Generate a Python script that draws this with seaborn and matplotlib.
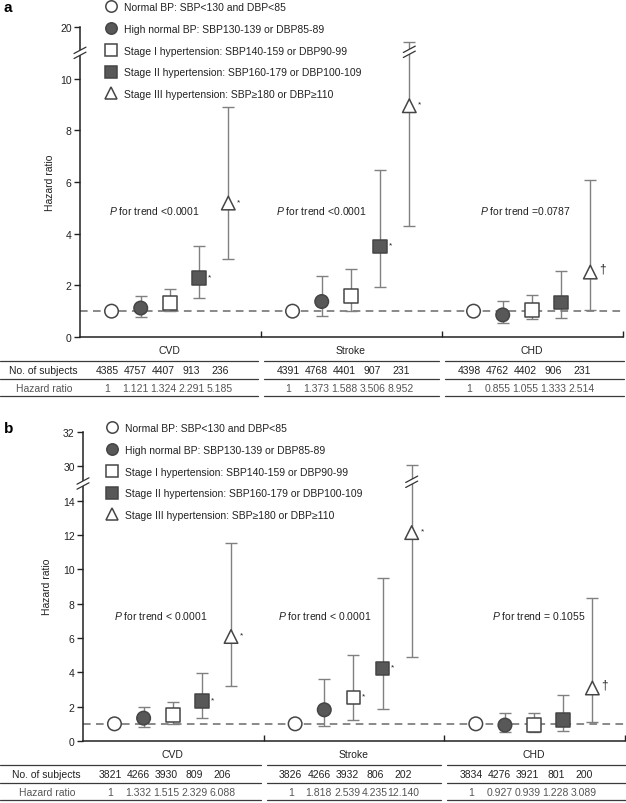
import numpy as np
import pandas as pd
import matplotlib
matplotlib.use("Agg")
import matplotlib.pyplot as plt
import matplotlib.transforms as mtransforms
from matplotlib.lines import Line2D
import seaborn as sns

# ---------------- data ----------------
categories = [
    "Normal BP: SBP<130 and DBP<85",
    "High normal BP: SBP130-139 or DBP85-89",
    "Stage I hypertension: SBP140-159 or DBP90-99",
    "Stage II hypertension: SBP160-179 or DBP100-109",
    "Stage III hypertension: SBP≥180 or DBP≥110",
]
outcomes = ["CVD", "Stroke", "CHD"]

# panel a
a_hr_cvd = [1, 1.121, 1.324, 2.291, 5.185]
a_lo_cvd = [1, 0.78, 0.99, 1.50, 3.02]
a_hi_cvd = [1, 1.60, 1.86, 3.54, 8.90]
a_hr_stroke = [1, 1.373, 1.588, 3.506, 8.952]
a_lo_stroke = [1, 0.83, 0.99, 1.93, 4.28]
a_hi_stroke = [1, 2.35, 2.65, 6.47, 17.1]
a_hr_chd = [1, 0.855, 1.055, 1.333, 2.514]
a_lo_chd = [1, 0.54, 0.70, 0.74, 1.05]
a_hi_chd = [1, 1.38, 1.64, 2.55, 6.09]
a_n_cvd = [4385, 4757, 4407, 913, 236]
a_n_stroke = [4391, 4768, 4401, 907, 231]
a_n_chd = [4398, 4762, 4402, 906, 231]
a_mark_cvd = ["", "", "", "*", "*"]
a_mark_stroke = ["", "", "", "*", "*"]
a_mark_chd = ["", "", "", "", "†"]
a_ptrend = ["<0.0001", "<0.0001", "=0.0787"]

# panel b
b_hr_cvd = [1, 1.332, 1.515, 2.329, 6.088]
b_lo_cvd = [1, 0.84, 1.00, 1.32, 3.19]
b_hi_cvd = [1, 2.00, 2.29, 3.97, 11.56]
b_hr_stroke = [1, 1.818, 2.539, 4.235, 12.140]
b_lo_stroke = [1, 0.86, 1.24, 1.87, 4.90]
b_hi_stroke = [1, 3.62, 5.01, 9.49, 30.1]
b_hr_chd = [1, 0.927, 0.939, 1.228, 3.089]
b_lo_chd = [1, 0.52, 0.55, 0.56, 1.10]
b_hi_chd = [1, 1.63, 1.63, 2.68, 8.34]
b_n_cvd = [3821, 4266, 3930, 809, 206]
b_n_stroke = [3826, 4266, 3932, 806, 202]
b_n_chd = [3834, 4276, 3921, 801, 200]
b_mark_cvd = ["", "", "", "*", "*"]
b_mark_stroke = ["", "", "*", "*", "*"]
b_mark_chd = ["", "", "", "", "†"]
b_ptrend = ["< 0.0001", "< 0.0001", "= 0.1055"]

# ---------------- style ----------------
sns.set_theme(style="ticks")
plt.rcParams["font.family"] = ["Liberation Sans", "DejaVu Sans"]
plt.rcParams["mathtext.fontset"] = "custom"
plt.rcParams["mathtext.it"] = "Liberation Sans:italic"
plt.rcParams["mathtext.rm"] = "Liberation Sans"

TXT = "#222222"
EDGE = "#454545"
FILL = "#585858"
BAR = "#808080"
FS = 7.5
markers = dict(zip(categories, ["o", "o", "s", "s", "^"]))
faces = dict(zip(categories, ["white", FILL, "white", FILL, "white"]))

GW = 6.2          # group width (data units)
XMIN = -1.08
XMAX = 3 * GW + XMIN

W_PX, H_PX = 626, 804
fig = plt.figure(figsize=(W_PX / 100, H_PX / 100), dpi=100)


def build_df(hrs, los, his, marks):
    rows = []
    for k, out in enumerate(outcomes):
        for i, cat in enumerate(categories):
            rows.append(dict(outcome=out, category=cat, x=k * GW + i,
                             hr=hrs[k][i], lo=los[k][i], hi=his[k][i],
                             mark=marks[k][i], ci=i))
    return pd.DataFrame(rows)


def fwd_a(y):
    y = np.asarray(y, float)
    return np.where(y <= 10, y, 10 + (y - 10) * 0.2)


def inv_a(t):
    t = np.asarray(t, float)
    return np.where(t <= 10, t, 10 + (t - 10) / 0.2)


def fwd_b(y):
    y = np.asarray(y, float)
    return np.where(y <= 14, y, np.where(y < 30, 14 + (y - 14) / 8.0, y - 14))


def inv_b(t):
    t = np.asarray(t, float)
    return np.where(t <= 14, t, np.where(t < 16, 14 + (t - 14) * 8.0, t + 14))


def slash(ax, xf, yf, gap=True):
    W, H = ax.bbox.width, ax.bbox.height
    sep, hw, hh = 5.0, 6.0, 3.2
    if gap:
        ax.plot([xf, xf], [yf - sep / 2 / H, yf + sep / 2 / H], color="white",
                lw=3, transform=ax.transAxes, clip_on=False, zorder=6,
                solid_capstyle="butt")
    for d in (-sep / 2, sep / 2):
        yc = yf + d / H
        ax.plot([xf - hw / W, xf + hw / W], [yc - hh / H, yc + hh / H],
                color="#333333", lw=0.9, transform=ax.transAxes,
                clip_on=False, zorder=7)


def draw_panel(rect_px, df, fwd, inv, ymax, yticks, ybreak, barbreak, ptrend,
               p_px, ns, letter, leg_px, ylab_px):
    x0, top, x1, bot = rect_px
    ax = fig.add_axes([x0 / W_PX, 1 - bot / H_PX, (x1 - x0) / W_PX, (bot - top) / H_PX])
    ax.axhline(1, color="#6a6a6a", lw=1.1, ls=(0, (5, 3.5)), zorder=1)
    sub = df[df.ci > 0]
    ax.errorbar(sub.x, sub.hr, yerr=[sub.hr - sub.lo, sub.hi - sub.hr], fmt="none",
                ecolor=BAR, elinewidth=1.0, capsize=4.4, capthick=1.0, zorder=2)
    sns.scatterplot(data=df, x="x", y="hr", hue="category", style="category",
                    hue_order=categories, style_order=categories,
                    palette=faces, markers=markers, s=95, edgecolor=EDGE,
                    linewidth=1.1, legend=False, ax=ax, zorder=3)
    ax.set_yscale("function", functions=(fwd, inv))
    ax.set_xlim(XMIN, XMAX)
    ax.set_ylim(0, ymax)
    ax.set_yticks(yticks)
    ax.set_yticklabels([str(t) for t in yticks])
    ax.set_xticks([XMIN + GW * (k + 1) for k in range(3)])
    ax.set_xticklabels([])
    ax.set_xlabel("")
    ax.set_ylabel("Hazard ratio", fontsize=FS, color=TXT)
    ax.yaxis.set_label_coords((ylab_px[0] - x0) / (x1 - x0), (bot - ylab_px[1]) / (bot - top))
    ax.tick_params(axis="y", labelsize=FS, colors=TXT, length=4, width=1.0, pad=2)
    ax.tick_params(axis="x", direction="in", length=4, width=1.0, colors=TXT)
    for s in ("top", "right"):
        ax.spines[s].set_visible(False)
    for s in ("left", "bottom"):
        ax.spines[s].set_linewidth(1.1)
        ax.spines[s].set_color(TXT)

    # significance marks
    for _, r in df[df.mark != ""].iterrows():
        if r.mark == "*":
            ax.annotate("*", (r.x, r.hr), xytext=(7.5, 1), textcoords="offset points",
                        fontsize=6, color=TXT, ha="center", va="center")
        else:
            ax.annotate(r.mark, (r.x, r.hr), xytext=(9, 2.5), textcoords="offset points",
                        fontsize=8.5, color=TXT, ha="center", va="center")

    # P for trend
    for k, (ptxt, (px, py)) in enumerate(zip(ptrend, p_px)):
        fig.text(px / W_PX, 1 - py / H_PX, r"$P$ for trend " + ptxt, fontsize=FS,
                 color=TXT, ha="center", va="center")

    # axis breaks
    yf_total = float(fwd(ymax))
    slash(ax, 0.0, float(fwd(ybreak)) / yf_total)
    r = df[(df.outcome == "Stroke") & (df.ci == 4)].iloc[0]
    slash(ax, (r.x - XMIN) / (XMAX - XMIN), float(fwd(barbreak)) / yf_total)

    # legend
    handles = [Line2D([0], [0], marker=markers[c], ls="none", markerfacecolor=faces[c],
                      markeredgecolor=EDGE, markeredgewidth=1.1, markersize=8.2)
               for c in categories]
    ax.legend(handles, categories, loc="upper left",
              bbox_to_anchor=(leg_px[0] / W_PX, 1 - leg_px[1] / H_PX),
              bbox_transform=fig.transFigure, frameon=False, fontsize=FS,
              handlelength=1.0, handletextpad=0.75, labelspacing=1.13,
              borderpad=0, borderaxespad=0, labelcolor=TXT)

    fig.text(4 / W_PX, 1 - leg_px[2] / H_PX, letter, fontsize=11, fontweight="bold",
             color="black", ha="left", va="center")

    # table under the axis
    blend = mtransforms.blended_transform_factory(ax.transData, fig.transFigure)
    fy = lambda p: 1 - p / H_PX
    px_per_unit = (x1 - x0) / (XMAX - XMIN)
    bounds = [XMIN + GW * k for k in range(4)]
    for k, out in enumerate(outcomes):
        fig.text(k * GW + 2, fy(bot + 13), out, transform=blend, fontsize=FS,
                 color=TXT, ha="center", va="center")
        for i in range(5):
            xx = k * GW + i * 0.965 - 0.15
            fig.text(xx, fy(bot + 33), str(ns[k][i]), transform=blend, fontsize=FS,
                     color=TXT, ha="center", va="center")
            hr = df[(df.outcome == out) & (df.ci == i)].hr.iloc[0]
            lab = "1" if i == 0 else f"{hr:.3f}"
            fig.text(xx, fy(bot + 51), lab, transform=blend, fontsize=FS,
                     color="#555555", ha="center", va="center")
        left = 0 if k == 0 else x0 + (bounds[k] - XMIN) * px_per_unit + 3
        right = x0 + (bounds[k + 1] - XMIN) * px_per_unit - (3 if k < 2 else -1)
        for yl in (bot + 24, bot + 42, bot + 59):
            fig.add_artist(Line2D([left / W_PX, right / W_PX], [fy(yl), fy(yl)],
                                  transform=fig.transFigure, color="#3a3a3a", lw=0.9))
    fig.text((x0 - 37) / W_PX, fy(bot + 33), "No. of subjects", fontsize=FS,
             color=TXT, ha="center", va="center")
    fig.text((x0 - 36) / W_PX, fy(bot + 51), "Hazard ratio", fontsize=FS,
             color="#555555", ha="center", va="center")
    return ax


df_a = build_df([a_hr_cvd, a_hr_stroke, a_hr_chd], [a_lo_cvd, a_lo_stroke, a_lo_chd],
                [a_hi_cvd, a_hi_stroke, a_hi_chd], [a_mark_cvd, a_mark_stroke, a_mark_chd])
df_b = build_df([b_hr_cvd, b_hr_stroke, b_hr_chd], [b_lo_cvd, b_lo_stroke, b_lo_chd],
                [b_hi_cvd, b_hi_stroke, b_hi_chd], [b_mark_cvd, b_mark_stroke, b_mark_chd])

draw_panel((80, 28, 623, 338), df_a, fwd_a, inv_a, 20, [0, 2, 4, 6, 8, 10, 20],
           15.0, 15.2, a_ptrend, [(154, 211), (321, 211), (525, 211)],
           [a_n_cvd, a_n_stroke, a_n_chd], "a", (106, 3, 8), (55, 183))
draw_panel((83, 433, 625, 742), df_b, fwd_b, inv_b, 32,
           [0, 2, 4, 6, 8, 10, 12, 14, 30, 32], 22.0, 22.8, b_ptrend,
           [(161, 616), (325, 616), (539, 616)],
           [b_n_cvd, b_n_stroke, b_n_chd], "b", (107, 424, 429), (52, 587))

fig.savefig("out.png", dpi=100, facecolor="white")
